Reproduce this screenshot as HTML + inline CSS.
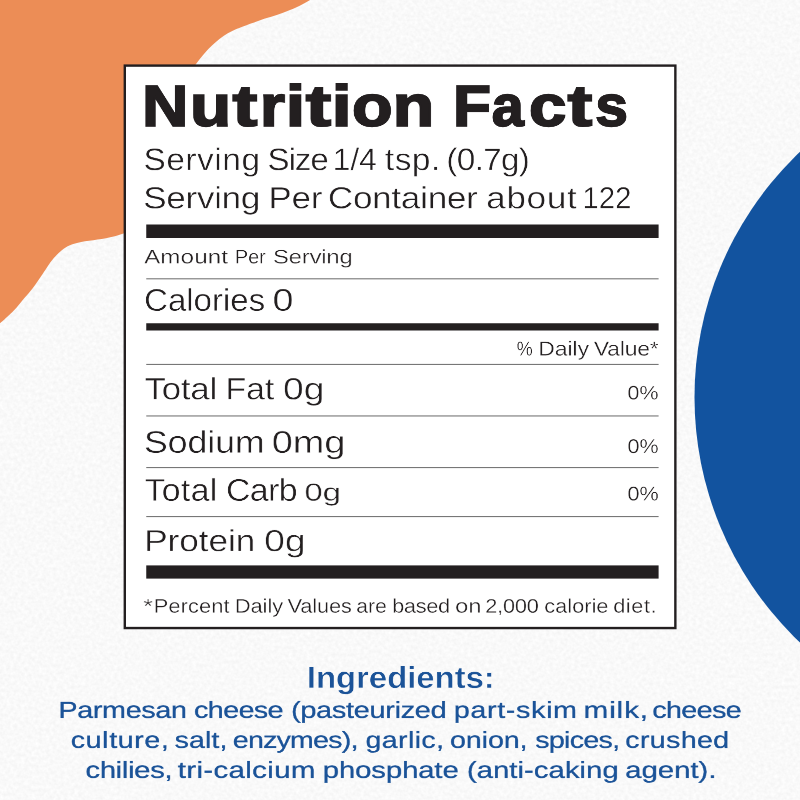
<!DOCTYPE html>
<html lang="en">
<head>
<meta charset="utf-8">
<title>Nutrition Facts</title>
<style>
html,body{margin:0;padding:0;}
body{width:800px;height:800px;overflow:hidden;position:relative;background:#f5f5f5;font-family:"Liberation Sans",sans-serif;}
.bg{position:absolute;left:0;top:0;width:800px;height:800px;display:block;}
.t{position:absolute;left:0;top:0;white-space:nowrap;line-height:1;transform-origin:0 0;margin:0;padding:0;will-change:transform;text-rendering:geometricPrecision;}
.title{font-weight:bold;color:#231f20;-webkit-text-stroke:4.00px #231f20;}
.s1{font-weight:normal;color:#231f20;-webkit-text-stroke:0.80px #fff;}
.s2{font-weight:normal;color:#231f20;-webkit-text-stroke:0.80px #fff;}
.amt{font-weight:normal;color:#231f20;-webkit-text-stroke:0.56px #fff;}
.cal{font-weight:normal;color:#231f20;-webkit-text-stroke:0.80px #fff;}
.dv{font-weight:normal;color:#231f20;-webkit-text-stroke:0.56px #fff;}
.fat{font-weight:normal;color:#231f20;-webkit-text-stroke:0.80px #fff;}
.p1{font-weight:normal;color:#231f20;-webkit-text-stroke:0.56px #fff;}
.sod{font-weight:normal;color:#231f20;-webkit-text-stroke:0.80px #fff;}
.p2{font-weight:normal;color:#231f20;-webkit-text-stroke:0.56px #fff;}
.carb{font-weight:normal;color:#231f20;-webkit-text-stroke:0.80px #fff;}
.carbg{font-weight:normal;color:#231f20;-webkit-text-stroke:0.64px #fff;}
.p3{font-weight:normal;color:#231f20;-webkit-text-stroke:0.56px #fff;}
.pro{font-weight:normal;color:#231f20;-webkit-text-stroke:0.80px #fff;}
.foot{font-weight:normal;color:#231f20;-webkit-text-stroke:0.56px #fff;}
.ing{font-weight:bold;color:#1b5398;-webkit-text-stroke:0.90px #f8f8f8;}
.i1{font-weight:normal;color:#1b5398;-webkit-text-stroke:0.60px #1b5398;}
.i2{font-weight:normal;color:#1b5398;-webkit-text-stroke:0.60px #1b5398;}
.i3{font-weight:normal;color:#1b5398;-webkit-text-stroke:0.60px #1b5398;}
</style>
</head>
<body>
<svg class="bg" width="800" height="800" viewBox="0 0 800 800">
<defs>
<filter id="paper" x="0" y="0" width="100%" height="100%" color-interpolation-filters="sRGB">
<feTurbulence type="fractalNoise" baseFrequency="0.28" numOctaves="2" seed="7"/>
<feColorMatrix type="matrix" values="0 0 0 0 1  0 0 0 0 1  0 0 0 0 1  1.2 0 0 0 -0.05"/>
</filter>
</defs>
<rect x="0" y="0" width="800" height="800" fill="#f2f2f2"/>
<rect x="0" y="0" width="800" height="800" filter="url(#paper)"/>
<path d="M0 0 L310.0 0.0 C308.8 0.7 305.8 2.6 302.5 4.3 C299.2 6.0 294.2 8.4 290.0 10.1 C285.8 11.8 281.7 13.3 277.5 14.7 C273.3 16.1 269.2 17.2 265.0 18.6 C260.8 20.0 256.5 21.6 252.5 23.0 C248.5 24.4 244.4 26.0 241.0 27.3 C237.6 28.6 235.1 29.6 232.2 31.0 C229.3 32.5 226.3 34.1 223.5 36.0 C220.7 37.9 218.1 40.1 215.6 42.2 C213.1 44.3 210.8 46.5 208.6 48.7 C206.4 51.0 204.5 53.2 202.5 55.7 C200.5 58.2 198.3 60.9 196.4 63.6 C194.5 66.3 191.9 70.6 191.0 72.0 L191 200 L135.0 230.5 C133.1 231.0 127.0 232.4 123.5 233.4 C120.0 234.4 118.1 235.4 113.8 236.4 C109.4 237.4 102.9 238.7 97.5 239.6 C92.1 240.5 85.8 241.1 81.2 242.1 C76.7 243.1 73.2 244.0 69.9 245.3 C66.7 246.7 64.5 248.0 61.8 250.2 C59.0 252.4 56.0 255.5 53.6 258.3 C51.2 261.1 49.3 264.1 47.1 267.2 C44.9 270.4 43.0 273.5 40.6 277.0 C38.2 280.5 35.2 284.9 32.5 288.4 C29.8 291.9 27.1 294.9 24.4 298.1 C21.7 301.4 19.0 304.9 16.2 307.9 C13.5 310.9 10.8 313.4 8.1 316.0 C5.4 318.6 1.3 322.1 0.0 323.3 Z" fill="#ec8d56"/>
<circle cx="1032.5" cy="397.2" r="338" fill="#12539f"/>
<rect x="124.800" y="65.600" width="550.560" height="562.450" fill="#ffffff" stroke="#231f20" stroke-width="2.400"/>
<rect x="146.250" y="224.500" width="512.350" height="13.500" fill="#231f20"/>
<rect x="146.250" y="278.250" width="512.350" height="1.1" fill="#777777"/>
<rect x="146.250" y="323.250" width="512.350" height="7.250" fill="#231f20"/>
<rect x="146.250" y="363.900" width="512.350" height="1.1" fill="#777777"/>
<rect x="146.250" y="415.400" width="512.350" height="1.1" fill="#777777"/>
<rect x="146.250" y="467.000" width="512.350" height="1.1" fill="#777777"/>
<rect x="146.250" y="516.000" width="512.350" height="1.1" fill="#777777"/>
<rect x="146.250" y="565.400" width="512.350" height="13.200" fill="#231f20"/>
</svg>
<div class="ln" role="text" aria-label="Nutrition Facts">
<div class="t title" style="font-size:121.36px;transform:translate(142.26px,77.30px) scale(0.5244,0.4745) rotate(0.02deg)">N</div>
<div class="t title" style="font-size:121.36px;transform:translate(190.10px,77.30px) scale(0.5524,0.4745) rotate(0.02deg)">u</div>
<div class="t title" style="font-size:121.36px;transform:translate(232.61px,77.30px) scale(0.6121,0.4745) rotate(0.02deg)">t</div>
<div class="t title" style="font-size:121.36px;transform:translate(260.18px,77.30px) scale(0.5219,0.4745) rotate(0.02deg)">r</div>
<div class="t title" style="font-size:121.36px;transform:translate(285.90px,77.30px) scale(0.5711,0.4745) rotate(0.02deg)">i</div>
<div class="t title" style="font-size:121.36px;transform:translate(305.78px,77.30px) scale(0.6249,0.4745) rotate(0.02deg)">t</div>
<div class="t title" style="font-size:121.36px;transform:translate(331.80px,77.30px) scale(0.5864,0.4745) rotate(0.02deg)">i</div>
<div class="t title" style="font-size:121.36px;transform:translate(352.09px,77.30px) scale(0.5445,0.4745) rotate(0.02deg)">o</div>
<div class="t title" style="font-size:121.36px;transform:translate(392.85px,77.30px) scale(0.5569,0.4745) rotate(0.02deg)">n</div>
<div class="t title" style="font-size:121.36px;transform:translate(453.23px,77.30px) scale(0.5074,0.4745) rotate(0.02deg)">F</div>
<div class="t title" style="font-size:121.36px;transform:translate(491.80px,77.30px) scale(0.4719,0.4745) rotate(0.02deg)">a</div>
<div class="t title" style="font-size:121.36px;transform:translate(529.05px,77.30px) scale(0.5508,0.4745) rotate(0.02deg)">c</div>
<div class="t title" style="font-size:121.36px;transform:translate(567.62px,77.30px) scale(0.6080,0.4745) rotate(0.02deg)">t</div>
<div class="t title" style="font-size:121.36px;transform:translate(595.41px,77.30px) scale(0.4806,0.4745) rotate(0.02deg)">s</div>
</div>
<div class="ln" role="text" aria-label="Serving Size 1/4 tsp. (0.7g)">
<div class="t s1" style="font-size:61.04px;letter-spacing:1.202px;transform:translate(143.58px,144.02px) scale(0.5434,0.5123) rotate(0.02deg)">Serving</div>
<div class="t s1" style="font-size:61.04px;letter-spacing:-1.831px;transform:translate(267.49px,144.02px) scale(0.5415,0.5123) rotate(0.02deg)">Size</div>
<div class="t s1" style="font-size:61.04px;transform:translate(332.82px,144.02px) scale(0.5159,0.5123) rotate(0.02deg)">1/4</div>
<div class="t s1" style="font-size:61.04px;letter-spacing:1.194px;transform:translate(384.90px,144.02px) scale(0.5434,0.5123) rotate(0.02deg)">tsp.</div>
<div class="t s1" style="font-size:61.04px;letter-spacing:-1.177px;transform:translate(446.37px,144.02px) scale(0.5434,0.5123) rotate(0.02deg)">(0.7g)</div>
</div>
<div class="ln" role="text" aria-label="Serving Per Container about 122">
<div class="t s2" style="font-size:59.88px;letter-spacing:-0.426px;transform:translate(143.28px,182.82px) scale(0.5836,0.5105) rotate(0.02deg)">Serving</div>
<div class="t s2" style="font-size:59.88px;transform:translate(268.59px,182.82px) scale(0.5772,0.5105) rotate(0.02deg)">Per</div>
<div class="t s2" style="font-size:59.88px;letter-spacing:-0.364px;transform:translate(327.95px,182.82px) scale(0.5836,0.5105) rotate(0.02deg)">Container</div>
<div class="t s2" style="font-size:59.88px;letter-spacing:1.352px;transform:translate(486.20px,182.82px) scale(0.5836,0.5105) rotate(0.02deg)">about</div>
<div class="t s2" style="font-size:59.88px;transform:translate(582.45px,182.82px) scale(0.4909,0.5105) rotate(0.02deg)">122</div>
</div>
<div class="ln" role="text" aria-label="Amount Per Serving">
<div class="t amt" style="font-size:38.52px;letter-spacing:0.410px;transform:translate(144.24px,247.70px) scale(0.6216,0.5070) rotate(0.02deg)">Amount</div>
<div class="t amt" style="font-size:38.52px;transform:translate(234.87px,247.70px) scale(0.5162,0.5070) rotate(0.02deg)">Per</div>
<div class="t amt" style="font-size:38.52px;letter-spacing:-0.347px;transform:translate(272.94px,247.70px) scale(0.6216,0.5070) rotate(0.02deg)">Serving</div>
</div>
<div class="ln" role="text" aria-label="Calories 0">
<div class="t cal" style="font-size:61.78px;letter-spacing:0.043px;transform:translate(144.13px,284.84px) scale(0.5333,0.5087) rotate(0.02deg)">Calories</div>
<div class="t cal" style="font-size:61.78px;transform:translate(272.61px,284.84px) scale(0.6066,0.5087) rotate(0.02deg)">0</div>
</div>
<div class="ln" role="text" aria-label="% Daily Value*">
<div class="t dv" style="font-size:39.24px;transform:translate(516.67px,339.10px) scale(0.4598,0.5129) rotate(0.02deg)">%</div>
<div class="t dv" style="font-size:39.24px;letter-spacing:0.078px;transform:translate(538.31px,339.10px) scale(0.5791,0.5129) rotate(0.02deg)">Daily</div>
<div class="t dv" style="font-size:39.24px;letter-spacing:-0.170px;transform:translate(593.93px,339.10px) scale(0.5791,0.5129) rotate(0.02deg)">Value*</div>
</div>
<div class="ln" role="text" aria-label="Total Fat 0g">
<div class="t fat" style="font-size:60.18px;letter-spacing:-0.158px;transform:translate(144.57px,373.83px) scale(0.5745,0.5103) rotate(0.02deg)">Total</div>
<div class="t fat" style="font-size:60.18px;transform:translate(225.60px,373.83px) scale(0.5591,0.5103) rotate(0.02deg)">Fat</div>
<div class="t fat" style="font-size:60.18px;transform:translate(283.00px,373.83px) scale(0.6193,0.5103) rotate(0.02deg)">0g</div>
</div>
<div class="ln" role="text" aria-label="0%">
<div class="t p1" style="font-size:37.94px;transform:translate(627.48px,383.99px) scale(0.5668,0.5141) rotate(0.02deg)">0%</div>
</div>
<div class="ln" role="text" aria-label="Sodium 0mg">
<div class="t sod" style="font-size:60.46px;letter-spacing:-0.001px;transform:translate(143.98px,426.40px) scale(0.5888,0.5171) rotate(0.02deg)">Sodium</div>
<div class="t sod" style="font-size:60.46px;transform:translate(271.82px,426.40px) scale(0.6259,0.5171) rotate(0.02deg)">0mg</div>
</div>
<div class="ln" role="text" aria-label="0%">
<div class="t p2" style="font-size:39.24px;transform:translate(627.51px,436.75px) scale(0.5482,0.5108) rotate(0.02deg)">0%</div>
</div>
<div class="ln" role="text" aria-label="Total Carb">
<div class="t carb" style="font-size:61.04px;letter-spacing:0.582px;transform:translate(144.62px,474.56px) scale(0.5531,0.5143) rotate(0.02deg)">Total</div>
<div class="t carb" style="font-size:61.04px;letter-spacing:-1.045px;transform:translate(226.05px,474.56px) scale(0.5531,0.5143) rotate(0.02deg)">Carb</div>
</div>
<div class="ln" role="text" aria-label="0g">
<div class="t carbg" style="font-size:47.96px;transform:translate(304.44px,480.67px) scale(0.6817,0.5107) rotate(0.02deg)">0g</div>
</div>
<div class="ln" role="text" aria-label="0%">
<div class="t p3" style="font-size:38.80px;transform:translate(627.50px,484.55px) scale(0.5570,0.5121) rotate(0.02deg)">0%</div>
</div>
<div class="ln" role="text" aria-label="Protein 0g">
<div class="t pro" style="font-size:59.30px;letter-spacing:0.033px;transform:translate(144.32px,525.50px) scale(0.5897,0.5134) rotate(0.02deg)">Protein</div>
<div class="t pro" style="font-size:59.30px;transform:translate(264.17px,525.50px) scale(0.6286,0.5134) rotate(0.02deg)">0g</div>
</div>
<div class="ln" role="text" aria-label="* Percent Daily Values are based on 2,000 calorie diet.">
<div class="t foot" style="font-size:38.52px;transform:translate(143.16px,596.90px) scale(0.6525,0.5071) rotate(0.02deg)">*</div>
<div class="t foot" style="font-size:38.52px;letter-spacing:0.211px;transform:translate(153.71px,596.90px) scale(0.5662,0.5071) rotate(0.02deg)">Percent</div>
<div class="t foot" style="font-size:38.52px;letter-spacing:-0.101px;transform:translate(234.86px,596.90px) scale(0.5662,0.5071) rotate(0.02deg)">Daily</div>
<div class="t foot" style="font-size:38.52px;letter-spacing:-0.255px;transform:translate(287.57px,596.90px) scale(0.5662,0.5071) rotate(0.02deg)">Values</div>
<div class="t foot" style="font-size:38.52px;transform:translate(356.28px,596.90px) scale(0.5487,0.5071) rotate(0.02deg)">are</div>
<div class="t foot" style="font-size:38.52px;letter-spacing:-0.652px;transform:translate(392.18px,596.90px) scale(0.5662,0.5071) rotate(0.02deg)">based</div>
<div class="t foot" style="font-size:38.52px;transform:translate(455.15px,596.90px) scale(0.6111,0.5071) rotate(0.02deg)">on</div>
<div class="t foot" style="font-size:38.52px;letter-spacing:-0.458px;transform:translate(485.25px,596.90px) scale(0.5662,0.5071) rotate(0.02deg)">2,000</div>
<div class="t foot" style="font-size:38.52px;letter-spacing:0.008px;transform:translate(544.27px,596.90px) scale(0.5662,0.5071) rotate(0.02deg)">calorie</div>
<div class="t foot" style="font-size:38.52px;letter-spacing:0.933px;transform:translate(613.28px,596.90px) scale(0.5662,0.5071) rotate(0.02deg)">diet.</div>
</div>
<div class="ln" role="text" aria-label="Ingredients:">
<div class="t ing" style="font-size:60.18px;letter-spacing:-0.068px;transform:translate(306.85px,662.64px) scale(0.5470,0.5061) rotate(0.02deg)">Ingredients:</div>
</div>
<div class="ln" role="text" aria-label="Parmesan cheese (pasteurized part-skim milk, cheese">
<div class="t i1" style="font-size:47.10px;letter-spacing:-0.580px;transform:translate(58.44px,698.23px) scale(0.6102,0.4904) rotate(0.02deg)">Parmesan</div>
<div class="t i1" style="font-size:47.10px;letter-spacing:-1.014px;transform:translate(194.04px,698.23px) scale(0.6102,0.4904) rotate(0.02deg)">cheese</div>
<div class="t i1" style="font-size:47.10px;letter-spacing:-0.392px;transform:translate(291.08px,698.23px) scale(0.6102,0.4904) rotate(0.02deg)">(pasteurized</div>
<div class="t i1" style="font-size:47.10px;letter-spacing:1.046px;transform:translate(453.79px,698.23px) scale(0.6102,0.4904) rotate(0.02deg)">part-skim</div>
<div class="t i1" style="font-size:47.10px;letter-spacing:1.413px;transform:translate(583.51px,698.23px) scale(0.6311,0.4904) rotate(0.02deg)">milk,</div>
<div class="t i1" style="font-size:47.10px;letter-spacing:-1.059px;transform:translate(652.29px,698.23px) scale(0.6102,0.4904) rotate(0.02deg)">cheese</div>
</div>
<div class="ln" role="text" aria-label="culture, salt, enzymes), garlic, onion, spices, crushed">
<div class="t i2" style="font-size:47.10px;letter-spacing:1.067px;transform:translate(70.83px,728.24px) scale(0.6055,0.4900) rotate(0.02deg)">culture,</div>
<div class="t i2" style="font-size:47.10px;letter-spacing:0.174px;transform:translate(174.62px,728.24px) scale(0.6055,0.4900) rotate(0.02deg)">salt,</div>
<div class="t i2" style="font-size:47.10px;letter-spacing:-1.217px;transform:translate(232.83px,728.24px) scale(0.6055,0.4900) rotate(0.02deg)">enzymes),</div>
<div class="t i2" style="font-size:47.10px;letter-spacing:0.659px;transform:translate(365.54px,728.24px) scale(0.6055,0.4900) rotate(0.02deg)">garlic,</div>
<div class="t i2" style="font-size:47.10px;letter-spacing:-0.067px;transform:translate(450.05px,728.24px) scale(0.6055,0.4900) rotate(0.02deg)">onion,</div>
<div class="t i2" style="font-size:47.10px;letter-spacing:-1.075px;transform:translate(535.28px,728.24px) scale(0.6055,0.4900) rotate(0.02deg)">spices,</div>
<div class="t i2" style="font-size:47.10px;letter-spacing:0.669px;transform:translate(625.23px,728.24px) scale(0.6055,0.4900) rotate(0.02deg)">crushed</div>
</div>
<div class="ln" role="text" aria-label="chilies, tri-calcium phosphate (anti-caking agent).">
<div class="t i3" style="font-size:47.10px;letter-spacing:-0.605px;transform:translate(85.41px,758.23px) scale(0.6241,0.4904) rotate(0.02deg)">chilies,</div>
<div class="t i3" style="font-size:47.10px;letter-spacing:0.588px;transform:translate(177.74px,758.23px) scale(0.6241,0.4904) rotate(0.02deg)">tri-calcium</div>
<div class="t i3" style="font-size:47.10px;letter-spacing:-0.235px;transform:translate(322.66px,758.23px) scale(0.6241,0.4904) rotate(0.02deg)">phosphate</div>
<div class="t i3" style="font-size:47.10px;letter-spacing:0.002px;transform:translate(466.84px,758.23px) scale(0.6241,0.4904) rotate(0.02deg)">(anti-caking</div>
<div class="t i3" style="font-size:47.10px;letter-spacing:-0.062px;transform:translate(625.15px,758.23px) scale(0.6241,0.4904) rotate(0.02deg)">agent).</div>
</div>
</body>
</html>
